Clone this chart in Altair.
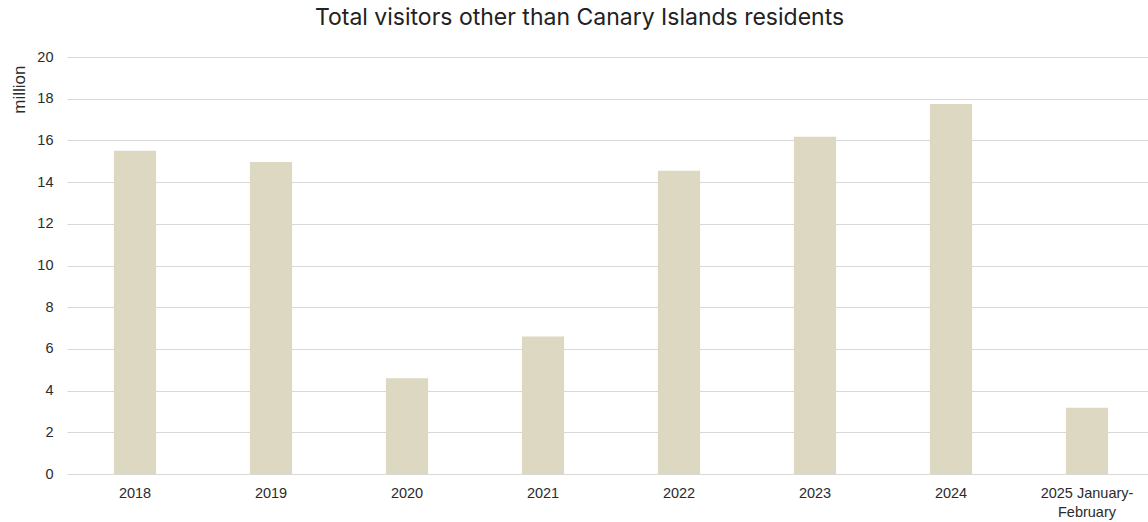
import altair as alt
import pandas as pd

categories = ["2018", "2019", "2020", "2021", "2022", "2023", "2024", "2025 January-February"]
values = [15.5, 14.96, 4.59, 6.6, 14.55, 16.18, 17.75, 3.18]
y_ticks = [0, 2, 4, 6, 8, 10, 12, 14, 16, 18, 20]

df = pd.DataFrame({"period": categories, "visitors": values})

label_expr = ("datum.value == '2025 January-February' ? "
              "['2025 January-', 'February'] : datum.value")

chart = alt.Chart(df).mark_bar(color="#DDD8C2").encode(
    x=alt.X(
        "period:N",
        sort=categories,
        title=None,
        scale=alt.Scale(range=[0, 1088], paddingInner=0.69, paddingOuter=0.345),
        axis=alt.Axis(
            labelAngle=0, labelFontSize=14.5, labelColor="#2B2B2B",
            labelFont="Liberation Sans", domain=False, ticks=False,
            labelPadding=12, labelExpr=label_expr, labelLineHeight=19,
            labelBaseline="top", grid=False,
        ),
    ),
    y=alt.Y(
        "visitors:Q",
        scale=alt.Scale(domain=[0, 20]),
        title="million",
        axis=alt.Axis(
            values=y_ticks, labelFontSize=14.5, labelColor="#2B2B2B",
            labelFont="Liberation Sans", domain=False, ticks=False,
            labelPadding=14, gridColor="#D9D9D9", gridWidth=1,
            titleFont="Liberation Sans", titleFontSize=17, titleFontWeight="normal",
            titleColor="#2B2B2B", titleAngle=-90, titleX=-48, titleY=8,
            titleAlign="right", titleBaseline="middle",
        ),
    ),
).properties(
    width=1081,
    height=417,
    autosize=alt.AutoSizeParams(type="none"),
    padding={"left": 67, "top": 57, "right": 0, "bottom": 48},
    background="white",
    title=alt.TitleParams(
        "Total visitors other than Canary Islands residents",
        font="Inter", fontSize=23, fontWeight="normal", color="#222222",
        anchor="middle", dx=-28, offset=1, baseline="alphabetic",
    ),
).configure_view(stroke=None)

chart.save("out.html", embed_options={"renderer": "svg", "actions": False})
